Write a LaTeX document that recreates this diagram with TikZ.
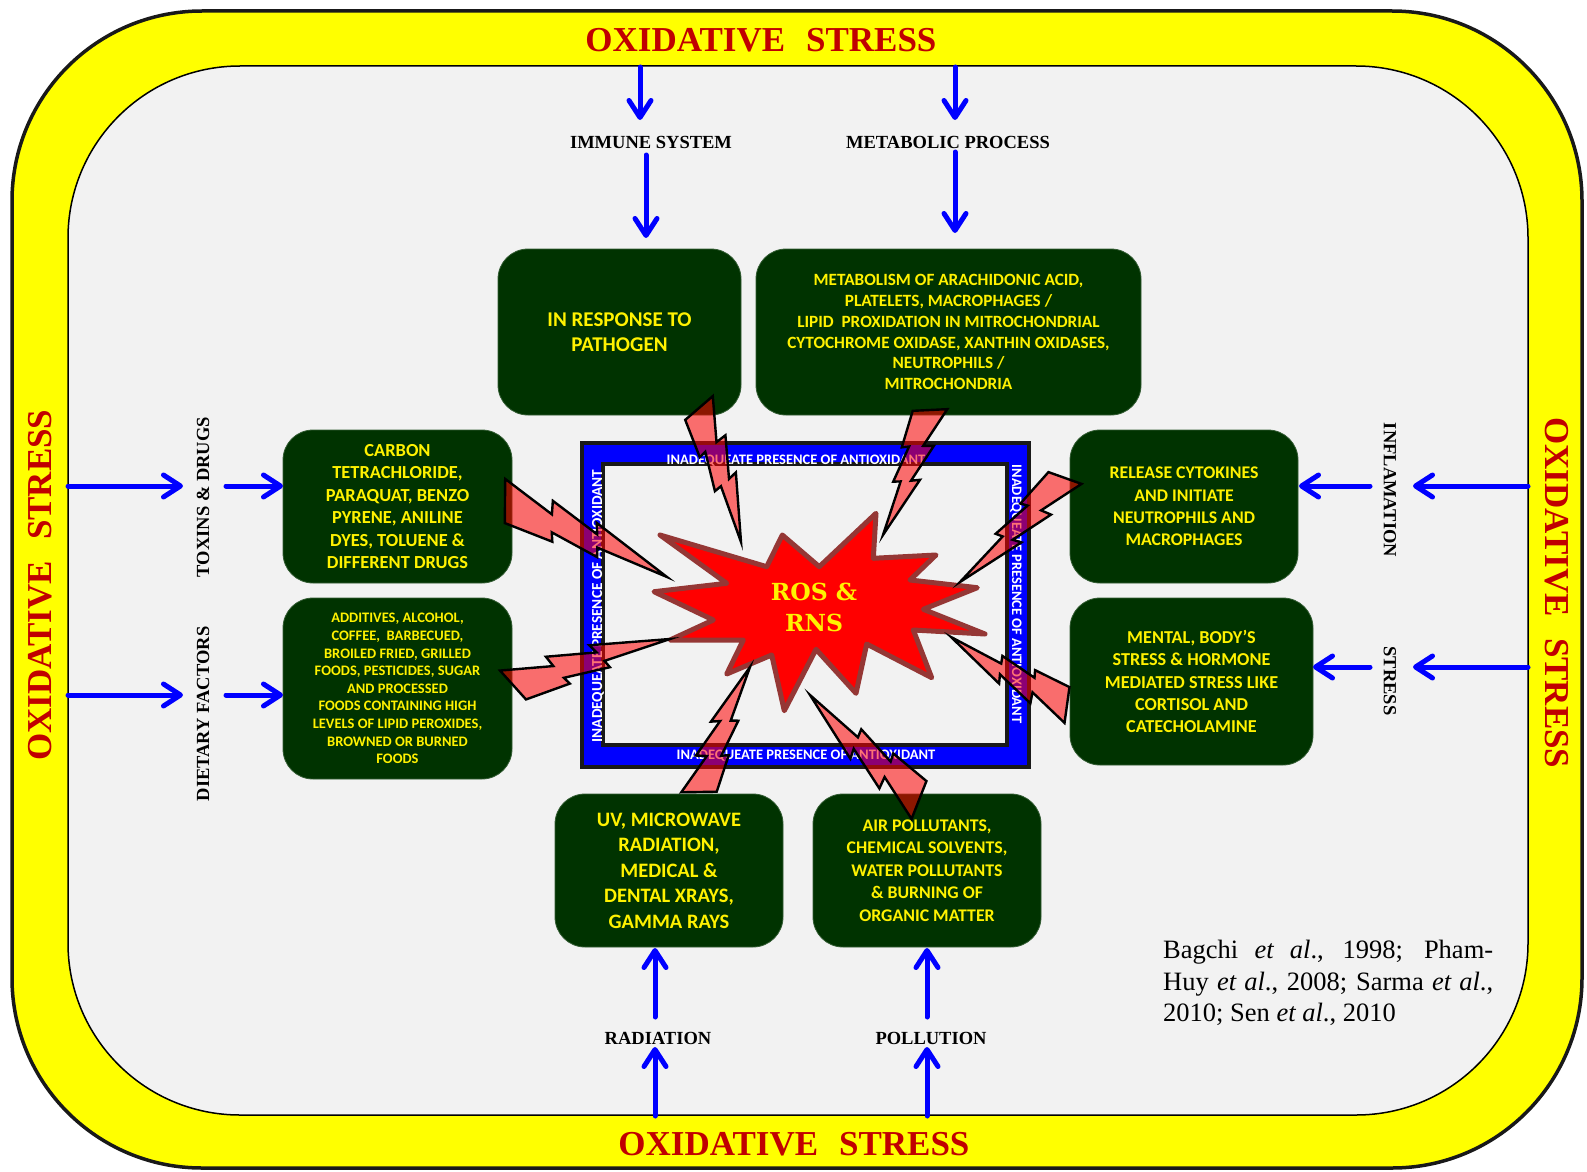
\documentclass[tikz,border=0pt]{standalone}
\usepackage{fontspec}
\setmainfont{Liberation Serif}
\newfontfamily\boxfont{Carlito}
\newfontfamily\starfont{DejaVu Serif}
\usetikzlibrary{arrows.meta,calc}

\definecolor{band}{RGB}{255,255,0}
\definecolor{paper}{RGB}{242,242,242}
\definecolor{deep}{RGB}{0,51,0}
\definecolor{stressred}{RGB}{192,0,0}
\definecolor{starline}{RGB}{149,55,53}

\newcommand\bx[2]{\boxfont\bfseries\fontsize{#1}{#2}\selectfont}

\tikzset{
  arr/.style={draw=blue, line width=5pt, line cap=round,
    -{Straight Barb[length=17pt,width=22pt,line cap=round,line join=round]}},
  card/.style={fill=deep, draw=deep!80!white, line width=0.8pt,
    rounded corners=30pt, align=center, text=yellow, inner sep=0pt},
  factor/.style={font=\bfseries\fontsize{18.5}{22}\selectfont, text=black, inner sep=0pt},
  banner/.style={font=\bfseries\fontsize{35}{40}\selectfont, text=stressred, inner sep=0pt},
  rim/.style={font=\bx{14.5}{16}, text=white, inner sep=0pt},
  bolt/.style={fill=red, fill opacity=0.55, draw=black, line width=2.4pt, line join=miter},
}

% lightning bolt from base point #1 to tip #2, #3 = width factor (negative mirrors it)
\newcommand\zap[3]{%
  \coordinate (zs) at #1;
  \coordinate (ze) at #2;
  \coordinate (zn) at ($(zs)!1!90:(ze)-(zs)$);
  \draw[bolt] ($(zs)!0.0514!(ze)+{(#3)*(0.170)}*(zn)$)
    \foreach \zt/\zv in {0.336/0.142,0.311/0.072,0.599/0.0986,0.578/0.025,1/0,
        0.516/-0.162,0.5457/-0.0758,0.2416/-0.1735,0.269/-0.0663,-0.0514/-0.170}
      { -- ($(zs)!\zt!(ze)+{(#3)*(\zv)}*(zn)$) } -- cycle;
}

\begin{document}
\begin{tikzpicture}[x=1pt,y=-1pt]
\useasboundingbox (0,0) rectangle (1587,1172);

% yellow band and light field
\draw[fill=band, draw=black!90, line width=3.5pt, rounded corners=190pt] (12,11) rectangle (1582,1168);
\draw[fill=paper, draw=black, line width=1.5pt, rounded corners=172pt] (68,66) rectangle (1528,1115);

% banner texts
\node[banner] (osTop) at (761,40) {OXIDATIVE\hspace{0.6em}STRESS};
\node[banner] (osBot) at (794,1144) {OXIDATIVE\hspace{0.6em}STRESS};
\node[banner, rotate=90] (osLeft) at (40,585) {OXIDATIVE\hspace{0.6em}STRESS};
\node[banner, rotate=-90] (osRight) at (1557,593) {OXIDATIVE\hspace{0.6em}STRESS};

% antioxidant frame
\draw[fill=blue, draw=black!90, line width=4pt] (582,443) rectangle (1029,767);
\draw[fill=paper, draw=black!90, line width=4pt] (603,464) rectangle (1007,745);
\node[rim] (rimTop) at (796,461) {INADEQUEATE PRESENCE OF ANTIOXIDANT};
\node[rim] (rimBot) at (806,756) {INADEQUEATE PRESENCE OF ANTIOXIDANT};
\node[rim, rotate=90, font=\bx{15.3}{17}] (rimLeft) at (598,606) {INADEQUEATE PRESENCE OF ANTIOXIDANT};
\node[rim, rotate=-90] (rimRight) at (1016,594) {INADEQUEATE PRESENCE OF ANTIOXIDANT};

% source boxes
\node[card, minimum width=243pt, minimum height=166pt, font=\bx{21}{25.3}] (pathogen) at (619.5,332)
  {IN RESPONSE TO\\PATHOGEN};
\node[card, minimum width=385pt, minimum height=166pt, font=\bx{17.2}{20.9}] (metab) at (948.5,332)
  {METABOLISM OF ARACHIDONIC ACID,\\PLATELETS, MACROPHAGES /\\LIPID\ \ PROXIDATION IN MITROCHONDRIAL\\CYTOCHROME OXIDASE, XANTHIN OXIDASES,\\NEUTROPHILS /\\MITROCHONDRIA};
\node[card, minimum width=229pt, minimum height=153pt, font=\bx{18.4}{22.5}] (toxbox) at (397.5,506.5)
  {CARBON\\TETRACHLORIDE,\\PARAQUAT, BENZO\\PYRENE, ANILINE\\DYES, TOLUENE \&\\DIFFERENT DRUGS};
\node[card, minimum width=229pt, minimum height=181pt, font=\bx{14.5}{17.6}] (dietbox) at (397.5,688.5)
  {ADDITIVES, ALCOHOL,\\COFFEE,\ \ BARBECUED,\\BROILED FRIED, GRILLED\\FOODS, PESTICIDES, SUGAR\\AND PROCESSED\\FOODS CONTAINING HIGH\\LEVELS OF LIPID PEROXIDES,\\BROWNED OR BURNED\\FOODS};
\node[card, minimum width=228pt, minimum height=153pt, font=\bx{17.8}{22.3}] (inflbox) at (1184,506.5)
  {RELEASE CYTOKINES\\AND INITIATE\\NEUTROPHILS AND\\MACROPHAGES};
\node[card, minimum width=243pt, minimum height=167pt, font=\bx{18.2}{22.3}] (stressbox) at (1191.5,681.5)
  {MENTAL, BODY’S\\STRESS \& HORMONE\\MEDIATED STRESS LIKE\\CORTISOL AND\\CATECHOLAMINE};
\node[card, minimum width=228pt, minimum height=153pt, font=\bx{20.5}{25.5}] (radbox) at (669,870.5)
  {UV, MICROWAVE\\RADIATION,\\MEDICAL \&\\DENTAL XRAYS,\\GAMMA RAYS};
\node[card, minimum width=228pt, minimum height=153pt, font=\bx{17.8}{22.5}] (pollbox) at (927,870.5)
  {AIR POLLUTANTS,\\CHEMICAL SOLVENTS,\\WATER POLLUTANTS\\\& BURNING OF\\ORGANIC MATTER};

% factor labels
\node[factor] (immune) at (651,142) {IMMUNE SYSTEM};
\node[factor] (metabolic) at (948,142) {METABOLIC PROCESS};
\node[factor, rotate=90] (toxins) at (203,497) {TOXINS \& DRUGS};
\node[factor, rotate=90] (dietary) at (203,714) {DIETARY FACTORS};
\node[factor, rotate=-90] (inflam) at (1390,490) {INFLAMATION};
\node[factor, rotate=-90] (stress) at (1390,681) {STRESS};
\node[factor] (radiation) at (658,1038) {RADIATION};
\node[factor] (pollution) at (931,1038) {POLLUTION};

% arrow end points
\coordinate (imA) at (640,67);   \coordinate (imB) at (640,120);
\coordinate (imC) at (646,155);  \coordinate (imD) at (646,238);
\coordinate (meA) at (955,67);   \coordinate (meB) at (955,120);
\coordinate (meC) at (955,152);  \coordinate (meD) at (955,233);
\coordinate (toA) at (68,486);   \coordinate (toB) at (183,486);
\coordinate (toC) at (226,486);  \coordinate (toD) at (283,486);
\coordinate (diA) at (68,695);   \coordinate (diB) at (183,695);
\coordinate (diC) at (226,695);  \coordinate (diD) at (283,695);
\coordinate (inA) at (1528,486); \coordinate (inB) at (1413,486);
\coordinate (inC) at (1370,486); \coordinate (inD) at (1299,486);
\coordinate (stA) at (1528,667); \coordinate (stB) at (1413,667);
\coordinate (stC) at (1370,667); \coordinate (stD) at (1313,667);
\coordinate (raA) at (655,1116); \coordinate (raB) at (655,1047);
\coordinate (raC) at (655,1017); \coordinate (raD) at (655,948);
\coordinate (poA) at (927,1116); \coordinate (poB) at (927,1047);
\coordinate (poC) at (927,1017); \coordinate (poD) at (927,948);

\foreach \p in {im,me,to,di,in,st,ra,po}{
  \draw[arr] (\p A) -- (\p B);
  \draw[arr] (\p C) -- (\p D);
}

% ROS & RNS burst
\draw[fill=red, draw=starline, line width=5pt, line join=round]
  (782.3,535) -- (819.3,566.7) -- (876,513.3) -- (873.3,558.3) -- (936,555) -- (910,580)
  -- (977.3,587.7) -- (923.3,609.3) -- (985,634) -- (913.3,630) -- (931.7,677.7)
  -- (866.7,644) -- (856,693.3) -- (816,649.3) -- (784.3,710.7) -- (771.7,655)
  -- (726.7,674) -- (743.3,640) -- (670,640) -- (713.3,620) -- (654,591.7)
  -- (726.7,583.3) -- (660,535) -- (766.7,566.7) -- cycle;
\node[font=\starfont\bfseries\fontsize{23.5}{31}\selectfont, text=yellow, align=center, inner sep=0pt]
  (ros) at (814,607) {ROS \&\\RNS};

% lightning bolts
\zap{(699,408)}{(741,542)}{-0.7}
\zap{(930,410)}{(883,535)}{-0.7}
\zap{(505,501)}{(667,577)}{-0.66}
\zap{(513,685)}{(670,639)}{-0.63}
\zap{(1065,478)}{(960,582)}{-0.63}
\zap{(1067,705)}{(951,637)}{-0.73}
\zap{(699,792)}{(750,667)}{-0.71}
\zap{(919,800)}{(810,695)}{-0.73}

% references
\node[anchor=north west, text width=330pt, align=justify, inner sep=0pt, font=\fontsize{26.5}{31.7}\selectfont] (refs) at (1163,940)
  {Bagchi \textit{et al}., 1998; Pham-\linebreak Huy \textit{et al}., 2008; Sarma \textit{et al}.,\linebreak 2010; Sen \textit{et al}., 2010};
\end{tikzpicture}
\end{document}
